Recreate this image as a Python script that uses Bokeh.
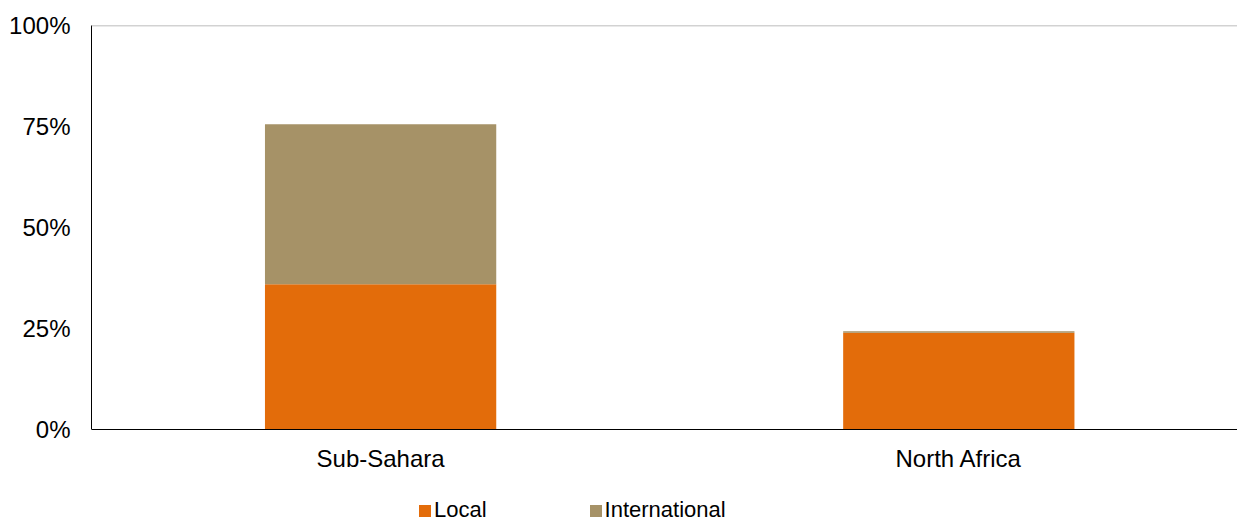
from bokeh.plotting import figure
from bokeh.models import Range1d, FixedTicker, Span, Legend, LegendItem, ColumnDataSource
from bokeh.embed import file_html
from bokeh.resources import INLINE

categories = ["Sub-Sahara", "North Africa"]
local = [36.0, 24.0]
international = [39.6, 0.4]
series = ["Local", "International"]
colors = ["#E36C0A", "#A69267"]
y_ticks = [0, 25, 50, 75, 100]
y_tick_labels = ["0%", "25%", "50%", "75%", "100%"]

FONT = "Liberation Sans"

xpos = [i + 0.5 for i in range(len(categories))]
source = ColumnDataSource(dict(x=xpos, Local=local, International=international))

# frame spans to the bottom of the page; the x axis sits at y=0 inside it,
# leaving room under it for the labels and the legend
p = figure(width=1237, height=523, output_backend="svg", toolbar_location=None,
           x_range=Range1d(0, 1.982), y_range=Range1d(-23.14, 100),
           min_border_left=91, min_border_right=0, min_border_top=25, min_border_bottom=0)
p.outline_line_color = None
p.background_fill_color = "white"
p.border_fill_color = "white"
p.xgrid.visible = False
p.ygrid.visible = False

rs = p.vbar_stack(series, x="x", width=0.4, color=colors, line_color=None, source=source)

p.add_layout(Span(location=100, dimension="width", line_color="#A6A6A6", line_width=1.5))

# y axis
p.yaxis.ticker = FixedTicker(ticks=y_ticks)
p.yaxis.bounds = (0, 100)
p.yaxis.major_label_overrides = {t: l for t, l in zip(y_ticks, y_tick_labels)}
p.yaxis.major_tick_out = 0
p.yaxis.major_tick_in = 0
p.yaxis.minor_tick_out = 0
p.yaxis.minor_tick_in = 0
p.yaxis.major_label_standoff = 21
p.yaxis.axis_line_color = "black"
p.yaxis.major_label_text_font = FONT
p.yaxis.major_label_text_font_size = "24px"
p.yaxis.major_label_text_color = "black"

# x axis, fixed at y = 0
p.xaxis.fixed_location = 0
p.xaxis.ticker = FixedTicker(ticks=xpos)
p.xaxis.major_label_overrides = {x: c for x, c in zip(xpos, categories)}
p.xaxis.major_tick_out = 0
p.xaxis.major_tick_in = 0
p.xaxis.minor_tick_out = 0
p.xaxis.minor_tick_in = 0
p.xaxis.major_label_standoff = 15
p.xaxis.axis_line_color = "black"
p.xaxis.major_label_text_font = FONT
p.xaxis.major_label_text_font_size = "24px"
p.xaxis.major_label_text_color = "black"

legend = Legend(items=[LegendItem(label=s, renderers=[r]) for s, r in zip(series, rs)],
                orientation="horizontal", location=(326, 0),
                border_line_color=None, background_fill_alpha=0,
                glyph_width=15, glyph_height=15, label_standoff=2, spacing=101,
                padding=0, margin=0,
                label_text_font=FONT, label_text_font_size="22px", label_text_color="black")
p.add_layout(legend)

open("out.html", "w").write(file_html(p, INLINE))
